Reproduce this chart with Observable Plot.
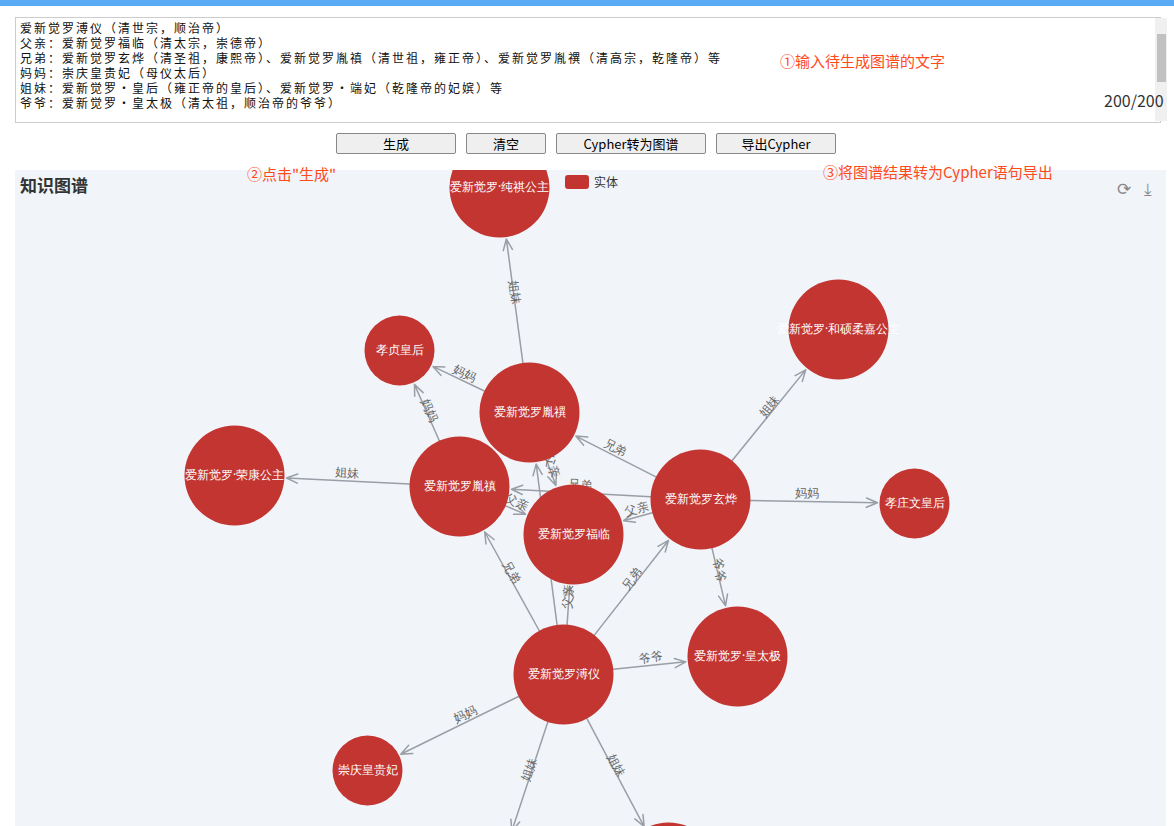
<!DOCTYPE html>
<html><head><meta charset="utf-8">
<script src="https://cdn.jsdelivr.net/npm/d3@7"></script>
<script src="https://cdn.jsdelivr.net/npm/@observablehq/plot@0.6"></script>
<style>
body{margin:0;width:1174px;height:826px;overflow:hidden;font-family:"Noto Sans CJK SC","Noto Sans",sans-serif;background:#fff;position:relative}
.top{position:absolute;left:0;top:0;width:1174px;height:6px;background:#5aabf5}
textarea{position:absolute;left:15px;top:17px;width:1136px;height:100px;border:1px solid #ccc;font-family:"Noto Sans CJK SC",monospace;font-size:12px;letter-spacing:2px;line-height:15px;padding:2px 4px;resize:none;margin:0;color:#111}
.sb{position:absolute;left:1155px;top:18px;width:12px;height:103px;background:#f0f0f0}
.sb div{position:absolute;left:2px;top:16px;width:9px;height:48px;background:#c1c1c1}
.cnt{position:absolute;left:1104px;top:88px;font-size:16px;color:#333}
.btn{position:absolute;top:133px;height:19px;border:1px solid #888;border-radius:2px;background:#efefef;font-size:13px;text-align:center;line-height:19px}
.note{position:absolute;color:#ff4a1a;font-size:15px}
#g{position:absolute;left:15px;top:170px;width:1151px;height:656px;background:#f1f4f9;overflow:hidden}
.title{position:absolute;left:20px;top:172px;font-size:17px;font-weight:bold;color:#333}
.leg{position:absolute;left:565px;top:175px;width:24px;height:14px;background:#c23531;border-radius:3px}
.legt{position:absolute;left:594px;top:173px;font-size:12px;color:#333}
.ic{position:absolute;top:175px;font-size:17px;color:#888}
</style></head><body>
<div class="top"></div>
<textarea>爱新觉罗溥仪（清世宗，顺治帝）
父亲：爱新觉罗福临（清太宗，崇德帝）
兄弟：爱新觉罗玄烨（清圣祖，康熙帝）、爱新觉罗胤禛（清世祖，雍正帝）、爱新觉罗胤禩（清高宗，乾隆帝）等
妈妈：崇庆皇贵妃（母仪太后）
姐妹：爱新觉罗·皇后（雍正帝的皇后）、爱新觉罗·端妃（乾隆帝的妃嫔）等
爷爷：爱新觉罗·皇太极（清太祖，顺治帝的爷爷）</textarea>
<div class="sb"><div></div></div>
<div class="cnt">200/200</div>
<div class="btn" style="left:336px;width:118px">生成</div>
<div class="btn" style="left:466px;width:78px">清空</div>
<div class="btn" style="left:556px;width:148px">Cypher转为图谱</div>
<div class="btn" style="left:716px;width:118px">导出Cypher</div>
<div class="note" style="left:780px;top:50px">①输入待生成图谱的文字</div>
<div id="g"></div>
<div class="title">知识图谱</div>
<div class="leg"></div><div class="legt">实体</div>
<div class="ic" style="left:1117px">⟳</div><div class="ic" style="left:1144px">⤓</div>
<div class="note" style="left:247px;top:163px">②点击"生成"</div>
<div class="note" style="left:823px;top:161px">③将图谱结果转为Cypher语句导出</div>
<script>
// node names, positions and radii (page pixels)
const names = ["爱新觉罗·纯祺公主","孝贞皇后","爱新觉罗胤禩","爱新觉罗·和硕柔嘉公主","爱新觉罗·荣康公主","爱新觉罗胤禛","爱新觉罗玄烨","爱新觉罗福临","孝庄文皇后","爱新觉罗溥仪","爱新觉罗·皇太极","崇庆皇贵妃","爱新觉罗·皇后","爱新觉罗·端妃"];
const nx = [499,399,529,838,234,459,700,573,914,563,737,367,495,668];
const ny = [187,350,412,329,475,486,499,534,503,674,656,770,880,872];
const nr = [50,35,50,50,50,50,50,50,35,50,50,35,50,50];
// edges: source index, target index, relation
const src = [2,2,5,5,5,2,6,6,6,6,6,6,9,9,9,9,9,9,9,9];
const tgt = [0,1,1,4,7,7,2,5,7,3,8,10,5,7,6,2,10,11,12,13];
const rel = ["姐妹","妈妈","妈妈","姐妹","父亲","父亲","兄弟","兄弟","父亲","姐妹","妈妈","爷爷","兄弟","父亲","兄弟","兄弟","爷爷","妈妈","姐妹","姐妹"];

const nodes = names.map((n,i)=>({name:n,x:nx[i],y:ny[i],r:nr[i]}));
const edges = src.map((s,i)=>{
  const a=nodes[s], b=nodes[tgt[i]];
  let ang=Math.atan2(b.y-a.y,b.x-a.x)*180/Math.PI;
  if(ang>90) ang-=180; if(ang<-90) ang+=180;
  return {x1:a.x,y1:a.y,x2:b.x,y2:b.y,mx:(a.x+b.x)/2,my:(a.y+b.y)/2,rel:rel[i],ang,tr:b.r};
});
const arrowOpts = {x1:"x1",y1:"y1",x2:"x2",y2:"y2",stroke:"#9a9ea6",strokeWidth:1.5,insetStart:50,headLength:12,headAngle:45,bend:false};
const chart = Plot.plot({
  width:1151,height:656,margin:0,
  x:{domain:[15,1166],axis:null},
  y:{domain:[170,826],reverse:true,axis:null},
  r:{type:"identity"},
  style:{background:"transparent",overflow:"hidden"},
  marks:[
    Plot.arrow(edges.filter(d=>d.tr===50),{...arrowOpts,insetEnd:52}),
    Plot.arrow(edges.filter(d=>d.tr===35),{...arrowOpts,insetEnd:37}),
    Plot.text(edges,{x:"mx",y:"my",text:"rel",rotate:"ang",dy:-8,fill:"#666",fontSize:12}),
    Plot.dot(nodes,{x:"x",y:"y",r:"r",fill:"#c23531",stroke:"none"}),
    Plot.text(nodes,{x:"x",y:"y",text:"name",fill:"#fff",fontSize:12})
  ]
});
document.getElementById("g").appendChild(chart);
</script>
</body></html>
